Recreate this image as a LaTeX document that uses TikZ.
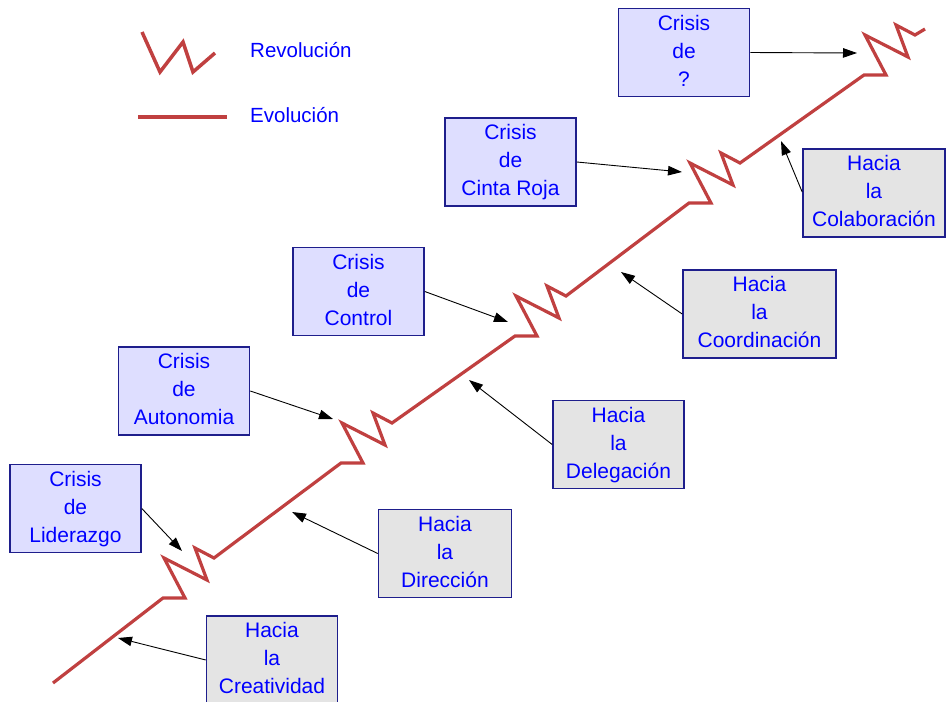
\documentclass[tikz,border=0pt]{standalone}
\usepackage{fontspec}
\setmainfont{Liberation Sans}
\usetikzlibrary{arrows.meta}
\definecolor{evo}{RGB}{192,64,64}
\definecolor{txt}{RGB}{0,0,255}
\definecolor{bord}{RGB}{30,30,140}
\definecolor{crisisfill}{RGB}{222,222,255}
\definecolor{haciafill}{RGB}{228,228,228}
\begin{document}
\begin{tikzpicture}[x=1pt,y=-1pt,
  box/.style={draw=bord,line width=1.6pt,minimum width=131pt,minimum height=88pt,inner sep=0pt,align=center,text=txt,font=\fontsize{21}{28}\selectfont},
  crisis/.style={box,fill=crisisfill},
  hacia/.style={box,fill=haciafill},
  evoline/.style={draw=evo,line width=3.2pt},
  conn/.style={draw=black,line width=0.9pt,-{Triangle[length=14pt,width=9.5pt]}},
  legendtext/.style={text=txt,font=\fontsize{20.5}{24}\selectfont,anchor=base west,inner sep=0pt},
  zig/.style={insert path={-- ++(22,0) -- ++(-21,-40) -- ++(43,22) -- ++(-12,-32) -- ++(19,10)}}]
\useasboundingbox (0,0) rectangle (946,702);

% legend
\draw[evoline,line width=3.5pt] (142,32) -- (160,72) -- (183,42) -- (193,72) -- (215,53);
\draw[evoline,line width=3.5pt] (138,117) -- (227,117);
\node[legendtext] (lrev) at (250,57.7) {Revolución};
\node[legendtext] (levo) at (250,122) {Evolución};

% evolution line
\draw[evoline] (53,683) -- (163,598) [zig] -- (341,463) [zig] -- (515,336) [zig]
  -- (689,203) [zig] -- (864,75) [zig] -- ++(10,-6);

% boxes
\node[crisis] (cq)  at (684,52.5)   {\strut Crisis\\de\\?\strut};
\node[crisis] (ccr) at (510.5,162)  {\strut Crisis\\de\\Cinta Roja\strut};
\node[crisis] (cco) at (358.5,291.5){\strut Crisis\\de\\Control\strut};
\node[crisis] (cau) at (184,391)    {\strut Crisis\\de\\Autonomia\strut};
\node[crisis] (cli) at (75.5,508.5) {\strut Crisis\\de\\Liderazgo\strut};

\node[hacia,minimum width=142pt] (hcol) at (874,193)   {\strut Hacia\\la\\Colaboración\strut};
\node[hacia,minimum width=153pt] (hcoo) at (759.5,314) {\strut Hacia\\la\\Coordinación\strut};
\node[hacia] (hdel) at (618.5,444.5) {\strut Hacia\\la\\Delegación\strut};
\node[hacia,minimum width=133pt] (hdir) at (445,553.5) {\strut Hacia\\la\\Dirección\strut};
\node[hacia] (hcre) at (272,660) {\strut Hacia\\la\\Creatividad\strut};

% arrow tips on the line
\coordinate (t1) at (857,53);
\coordinate (t2) at (682,172);
\coordinate (t3) at (508,322);
\coordinate (t4) at (333,419);
\coordinate (t5) at (182,551);
\coordinate (t6) at (118,638);
\coordinate (t7) at (292,512);
\coordinate (t8) at (469,380);
\coordinate (t9) at (621,272);
\coordinate (t10) at (781,141);

\draw[conn] (cq.east) -- (t1);
\draw[conn] (ccr.east) -- (t2);
\draw[conn] (cco.east) -- (t3);
\draw[conn] (cau.east) -- (t4);
\draw[conn] (cli.east) -- (t5);
\draw[conn] (hcre.west) -- (t6);
\draw[conn] (hdir.west) -- (t7);
\draw[conn] (hdel.west) -- (t8);
\draw[conn] (hcoo.west) -- (t9);
\draw[conn] ([yshift=1pt]hcol.west) -- (t10);
\end{tikzpicture}
\end{document}
